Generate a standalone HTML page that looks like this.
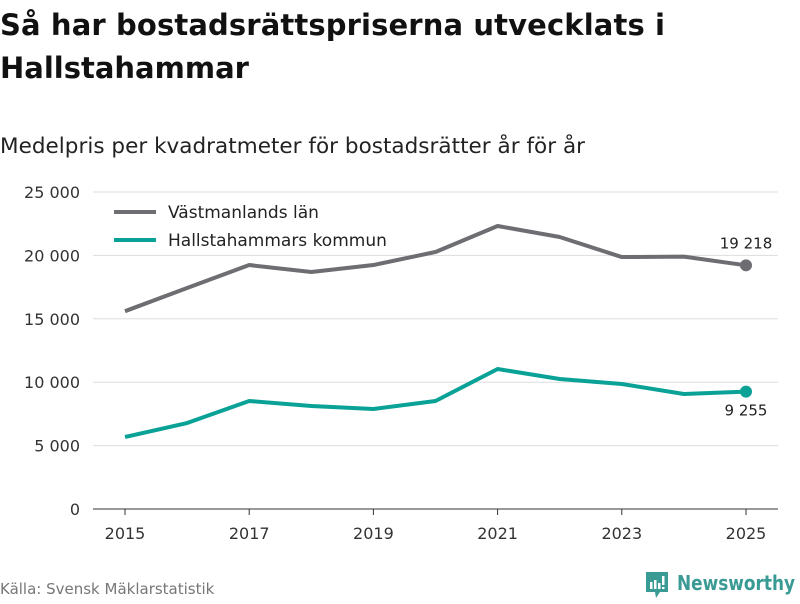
<!DOCTYPE html>
<html><head><meta charset="utf-8"><style>
body{margin:0;width:800px;height:600px;background:#fff;font-family:"DejaVu Sans","Liberation Sans",sans-serif;overflow:hidden}
svg text{font-family:"DejaVu Sans","Liberation Sans",sans-serif}
</style></head><body>
<svg width="800" height="600">
<text x="0" y="35" font-size="29" font-weight="bold" fill="#111" textLength="665">Så har bostadsrättspriserna utvecklats i</text>
<text x="0" y="78" font-size="29" font-weight="bold" fill="#111">Hallstahammar</text>
<text x="0" y="153" font-size="21.5" fill="#222" textLength="585">Medelpris per kvadratmeter för bostadsrätter år för år</text>
<g id="grid"></g><g id="series"></g>
<g>
<line x1="114" y1="212" x2="156" y2="212" stroke="#6e6d72" stroke-width="4"/>
<text x="168" y="218" font-size="17" fill="#222">Västmanlands län</text>
<line x1="114" y1="240" x2="156" y2="240" stroke="#0aa296" stroke-width="4"/>
<text x="168" y="246" font-size="17" fill="#222">Hallstahammars kommun</text>
</g>
<text x="0" y="594" font-size="15" fill="#777">Källa: Svensk Mäklarstatistik</text>
<g>
<path d="M646 572h22v20h-8l-4 6-1-6h-9z" fill="#3a9a94"/>
<rect x="650" y="582" width="2.5" height="7" fill="#fff"/><rect x="654" y="580" width="2.5" height="9" fill="#fff"/><rect x="658" y="583" width="2.5" height="6" fill="#fff"/><rect x="662" y="576" width="2.5" height="9" fill="#fff"/><rect x="662" y="587" width="2.5" height="2" fill="#fff"/>
<text x="677" y="590" font-size="20" font-weight="bold" fill="#3a9a94" textLength="118" lengthAdjust="spacingAndGlyphs">Newsworthy</text>
</g>
</svg>
<script>
const years=[2015,2016,2017,2018,2019,2020,2021,2022,2023,2024,2025];
const vastmanland=[15600,17430,19240,18690,19240,20270,22320,21450,19870,19900,19218];
const hallstahammar=[5680,6780,8520,8120,7890,8520,11040,10250,9860,9070,9255];
const yTicks=[0,5000,10000,15000,20000,25000];
const xTicks=[2015,2017,2019,2021,2023,2025];
const NS="http://www.w3.org/2000/svg";
const x=v=>125+(v-2015)*62.1;
const y=v=>509-v/25000*317;
const fmt=v=>v===0?"0":String(v).replace(/\B(?=(\d{3})+(?!\d))/g," ");
function mk(t,a,p){const e=document.createElementNS(NS,t);for(const k in a)e.setAttribute(k,a[k]);p.appendChild(e);return e;}
const g=document.getElementById('grid'),s=document.getElementById('series');
yTicks.forEach(v=>{
 const l=mk('line',{x1:93,x2:778,y1:y(v),y2:y(v),stroke:v===0?'#333':'#ddd','stroke-width':1},g);
 
 
 const t=mk('text',{x:80,y:y(v)+6,'text-anchor':'end','font-size':16,fill:'#333'},g);t.textContent=fmt(v);
 
 
});
xTicks.forEach(v=>{
 const l=mk('line',{x1:x(v),x2:x(v),y1:509,y2:515,stroke:'#333'},g);
 
 
 const t=mk('text',{x:x(v),y:539,'text-anchor':'middle','font-size':16,fill:'#333'},g);t.textContent=v;
 
 
});
function line(data,col,name,labDy){
 const p=mk('polyline',{points:data.map((v,i)=>x(years[i])+','+y(v)).join(' '),fill:'none',stroke:col,'stroke-width':4,'stroke-linejoin':'round'},s);
 
 
 const last=data[data.length-1],lx=x(years[years.length-1]),ly=y(last);
 const c=mk('circle',{cx:lx,cy:ly,r:6,fill:col},s);
 
 
 const t=mk('text',{x:lx,y:ly+labDy,'text-anchor':'middle','font-size':15,fill:'#222'},s);t.textContent=fmt(last);
 
 
}
line(vastmanland,'#6e6d72','vastmanland',-17);
line(hallstahammar,'#0aa296','hallstahammar',24);
</script>
</body></html>
